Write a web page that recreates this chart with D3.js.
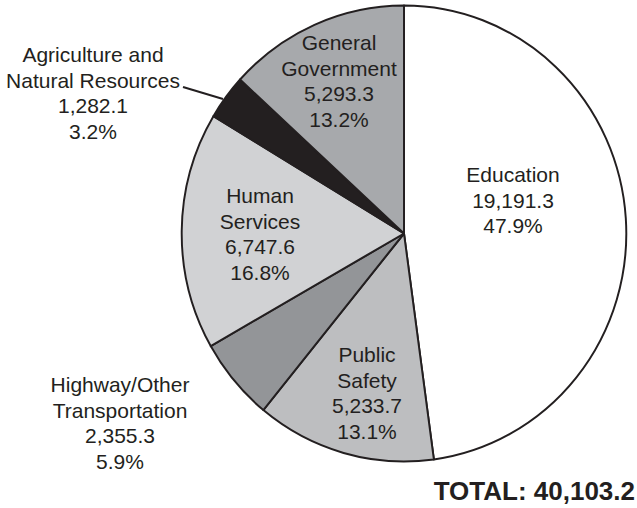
<!DOCTYPE html>
<html>
<head>
<meta charset="utf-8">
<script src="https://cdn.jsdelivr.net/npm/d3@7"></script>
<style>
  body { margin: 0; background: #fff; }
  text { font-family: "Liberation Sans", Arial, sans-serif; fill: #231f20; }
</style>
</head>
<body>
<svg id="chart" width="637" height="508"></svg>
<script>
// categories in drawing order, clockwise from 12 o'clock
var categories = ["Education", "Public Safety", "Highway/Other Transportation",
                  "Human Services", "Agriculture and Natural Resources", "General Government"];
var amounts = [19191.3, 5233.7, 2355.3, 6747.6, 1282.1, 5293.3];
var percents = ["47.9%", "13.1%", "5.9%", "16.8%", "3.2%", "13.2%"];
var labelLines = [
	["Education"],
	["Public", "Safety"],
	["Highway/Other", "Transportation"],
	["Human", "Services"],
	["Agriculture and", "Natural Resources"],
	["General", "Government"]
];
var fills = ["#ffffff", "#bdbec0", "#939598", "#d1d2d4", "#231f20", "#a7a9ac"];
var total = "40,103.2";

document.addEventListener("DOMContentLoaded", init)

function init() {
	var svg = d3.select("#chart");
	var cx = 404, cy = 233.5, r = 228;
	var fmt = d3.format(",.1f");

	var pie = d3.pie().sort(null).value(d=>d);
	var arcs = pie(amounts);
	var arc = d3.arc().innerRadius(0).outerRadius(r);

	var g = svg.append("g")
	           .attr("transform", "translate(" + cx + "," + cy + ") scale(0.975,1)");

	g.selectAll(".slice")
	 .data(arcs)
	 .enter()
	 .append("path")
	 .classed("slice", true)
	 .attr("d", arc)
	 .style("fill", (d,i)=>fills[i])
	 .style("stroke", "#231f20")
	 .style("stroke-width", 2)
	 .style("stroke-linejoin", "round");

	// label anchor positions (absolute)
	var labelPos = [[513, 175], [367, 355], [120, 385], [260, 196], [93, 55], [339, 43]];

	var labels = svg.selectAll(".lbl")
	                .data(categories)
	                .enter()
	                .append("text")
	                .classed("lbl", true)
	                .attr("text-anchor", "middle")
	                .style("font-size", "21px");

	labels.each(function(c, i){
		var lines = labelLines[i].concat([fmt(amounts[i]), percents[i]]);
		d3.select(this)
		  .selectAll("tspan")
		  .data(lines)
		  .enter()
		  .append("tspan")
		  .attr("x", labelPos[i][0])
		  .attr("y", (d,j)=>labelPos[i][1] + j * 25.5)
		  .attr("dy", "0.35em")
		  .text(d=>d);
	});

	// leader line for the small black slice
	svg.append("path")
	   .attr("d", d3.line()([[183, 87], [223, 99]]))
	   .style("stroke", "#231f20")
	   .style("stroke-width", 2)
	   .style("fill", "none");

	svg.append("text")
	   .attr("x", 635)
	   .attr("y", 491)
	   .attr("dy", "0.35em")
	   .attr("text-anchor", "end")
	   .style("font-size", "26px")
	   .style("font-weight", "bold")
	   .text("TOTAL: " + total);
}
</script>
</body>
</html>
